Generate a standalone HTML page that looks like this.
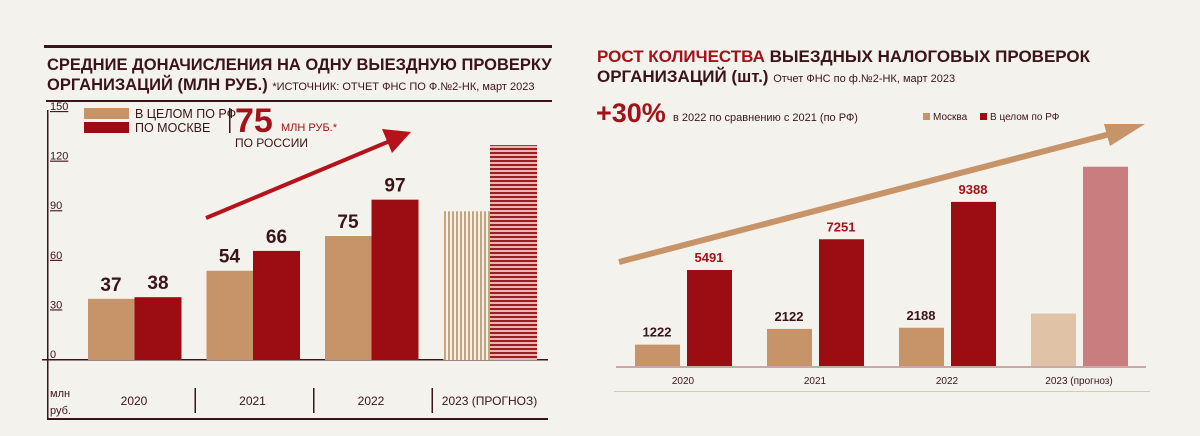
<!DOCTYPE html>
<html><head><meta charset="utf-8"><style>
html,body{margin:0;padding:0;background:#f4f2ec;}
svg{display:block;font-family:"Liberation Sans","DejaVu Sans",sans-serif;}
</style></head><body>
<svg width="1200" height="436" viewBox="0 0 1200 436">
<defs>
<pattern id="vstripe" width="4" height="4" patternUnits="userSpaceOnUse"><rect width="4" height="4" fill="#f4f2ec"/><rect width="2" height="4" fill="#c9a27a"/></pattern>
<pattern id="hstripe" width="4" height="4" patternUnits="userSpaceOnUse"><rect width="4" height="4" fill="#e8b5b5"/><rect width="4" height="2" fill="#9c1d22"/></pattern>
</defs>
<!-- LEFT -->
<g>
<rect x="44" y="45" width="508" height="3" fill="#3a1418"/>
<text x="47" y="70" font-size="16.5" font-weight="bold" fill="#3a1418">СРЕДНИЕ ДОНАЧИСЛЕНИЯ НА ОДНУ ВЫЕЗДНУЮ ПРОВЕРКУ</text>
<text x="47" y="90" font-size="16.5" font-weight="bold" fill="#3a1418">ОРГАНИЗАЦИЙ (МЛН РУБ.) <tspan font-size="11" font-weight="normal">*ИСТОЧНИК: ОТЧЕТ ФНС ПО Ф.№2-НК, март 2023</tspan></text>
<rect x="46" y="100" width="506" height="2" fill="#3a1418"/>
<rect x="47" y="110" width="1.5" height="310" fill="#3a1418"/>
<g id="lticks"></g>
<rect x="42" y="359" width="506" height="1.5" fill="#3a1418"/>
<rect x="47" y="418" width="501" height="2" fill="#3a1418"/>
<text x="50" y="397" font-size="11" fill="#3a1418">млн</text>
<text x="50" y="414" font-size="11" fill="#3a1418">руб.</text>
<g id="lbars"></g>
<g id="lcats"></g>
<rect x="84" y="108" width="45" height="11" fill="#c69468"/>
<text x="135" y="118" font-size="12.5" fill="#3a1418">В ЦЕЛОМ ПО РФ</text>
<rect x="84" y="122" width="45" height="11" fill="#9c0d13"/>
<text x="135" y="132" font-size="12.5" fill="#3a1418">ПО МОСКВЕ</text>
<rect x="229" y="108" width="1.5" height="25" fill="#3a1418"/>
<text x="235" y="132" font-size="34" font-weight="bold" fill="#a3121a">75</text>
<text x="281" y="131" font-size="11" fill="#a3121a">МЛН РУБ.*</text>
<text x="235" y="147" font-size="12" fill="#3a1418">ПО РОССИИ</text>
<line x1="206" y1="218" x2="390" y2="141" stroke="#b5121b" stroke-width="4"/>
<polygon points="411,132 382,129 392,153" fill="#b5121b"/>
</g>
<!-- RIGHT -->
<g>
<text x="597" y="62" font-size="17" font-weight="bold" fill="#3a1418"><tspan fill="#a3121a">РОСТ КОЛИЧЕСТВА</tspan> ВЫЕЗДНЫХ НАЛОГОВЫХ ПРОВЕРОК</text>
<text x="597" y="82" font-size="17" font-weight="bold" fill="#3a1418">ОРГАНИЗАЦИЙ (шт.) <tspan font-size="11" font-weight="normal">Отчет ФНС по ф.№2-НК, март 2023</tspan></text>
<text x="596" y="122" font-size="27" font-weight="bold" fill="#a3121a">+30%</text>
<text x="673" y="121" font-size="11" fill="#3a1418">в 2022 по сравнению с 2021 (по РФ)</text>
<rect x="923" y="113" width="7" height="7" fill="#c69468"/>
<text x="933" y="120" font-size="10" fill="#3a1418">Москва</text>
<rect x="980" y="113" width="7" height="7" fill="#9c0d13"/>
<text x="990" y="120" font-size="10" fill="#3a1418">В целом по РФ</text>
<line x1="619" y1="262" x2="1110" y2="134" stroke="#c69468" stroke-width="6"/>
<polygon points="1145,124 1104,124 1110,146" fill="#c69468"/>
<g id="rbars"></g>
<rect x="616" y="366" width="530" height="2" fill="#c8a8a8"/>
<rect x="614" y="391" width="536" height="1" fill="#d9cbb0"/>
<g id="rcats"></g>
</g>
</svg>
<script>
const NS="http://www.w3.org/2000/svg";
function mk(t,a,txt){const e=document.createElementNS(NS,t);for(const k in a)e.setAttribute(k,a[k]);if(txt!==undefined)e.textContent=txt;return e;}
// Left data
const lCats=["2020","2021","2022","2023 (ПРОГНОЗ)"];
const lRF=[37,54,75,90];
const lMsk=[38,66,97,130];
const lShowLabels=[true,true,true,false];
const lTicks=[0,30,60,90,120,150];
const ly=v=>360-v*1.653;
const lx=i=>88+i*118.5;
const lt=document.getElementById("lticks");
lTicks.forEach(v=>{const t=mk("text",{x:50,y:ly(v)-2,"font-size":11,fill:"#3a1418","text-decoration":"underline"},String(v));


lt.appendChild(t);});
const lb=document.getElementById("lbars");
lCats.forEach((c,i)=>{
 const x=lx(i),fc=i===3;
 const r1=mk("rect",{x:x,y:ly(lRF[i]),width:46.5,height:360-ly(lRF[i]),fill:fc?"url(#vstripe)":"#c69468"});
 
 
 lb.appendChild(r1);
 const r2=mk("rect",{x:x+46.5,y:ly(lMsk[i]),width:47,height:360-ly(lMsk[i]),fill:fc?"url(#hstripe)":"#9c0d13"});
 
 
 lb.appendChild(r2);
 if(lShowLabels[i]){
  const t1=mk("text",{x:x+23,y:ly(lRF[i])-8,"font-size":19,"font-weight":"bold","text-anchor":"middle",fill:"#3a1418"},String(lRF[i]));
  
  
  lb.appendChild(t1);
  const t2=mk("text",{x:x+70,y:ly(lMsk[i])-8,"font-size":19,"font-weight":"bold","text-anchor":"middle",fill:"#3a1418"},String(lMsk[i]));
  
  
  lb.appendChild(t2);
 }
});
const lc=document.getElementById("lcats");
lCats.forEach((c,i)=>{
 const t=mk("text",{x:lx(i)+46,y:405,"font-size":12,"text-anchor":"middle",fill:"#3a1418"},c);
 
 
 lc.appendChild(t);
 if(i>0){const s=mk("rect",{x:lx(i)-12,y:388,width:1.5,height:25,fill:"#3a1418"});
 
 
 lc.appendChild(s);}
});
// Right data
const rCats=["2020","2021","2022","2023 (прогноз)"];
const rMsk=[1222,2122,2188,3000];
const rRF=[5491,7251,9388,11400];
const rShowLabels=[true,true,true,false];
const ry=v=>366-v*0.01748;
const rx=i=>635+i*132;
const rb=document.getElementById("rbars");
rCats.forEach((c,i)=>{
 const x=rx(i),fc=i===3;
 const r1=mk("rect",{x:x,y:ry(rMsk[i]),width:45,height:366-ry(rMsk[i]),fill:fc?"#e0c3a6":"#c69468"});
 
 
 rb.appendChild(r1);
 const r2=mk("rect",{x:x+52,y:ry(rRF[i]),width:45,height:366-ry(rRF[i]),fill:fc?"#c97d7f":"#9c0d13"});
 
 
 rb.appendChild(r2);
 if(rShowLabels[i]){
  const t1=mk("text",{x:x+22,y:ry(rMsk[i])-8,"font-size":13,"font-weight":"bold","text-anchor":"middle",fill:"#3a1418"},String(rMsk[i]));
  
  
  rb.appendChild(t1);
  const t2=mk("text",{x:x+74,y:ry(rRF[i])-8,"font-size":13,"font-weight":"bold","text-anchor":"middle",fill:"#a3121a"},String(rRF[i]));
  
  
  rb.appendChild(t2);
 }
});
const rc=document.getElementById("rcats");
rCats.forEach((c,i)=>{
 const t=mk("text",{x:rx(i)+48,y:384,"font-size":10,"text-anchor":"middle",fill:"#3a1418"},c);
 
 
 rc.appendChild(t);
});
</script>
</body></html>
